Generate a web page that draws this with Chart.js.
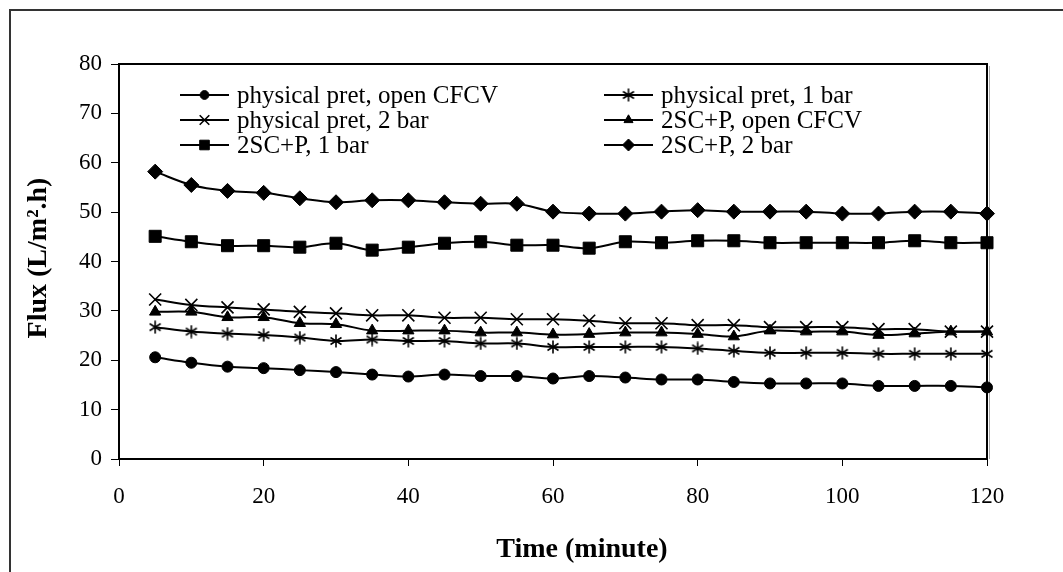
<!DOCTYPE html>
<html>
<head>
<meta charset="utf-8">
<script src="https://cdn.jsdelivr.net/npm/chart.js@4.4.1/dist/chart.umd.min.js"></script>
<style>
  html, body { margin: 0; padding: 0; background: #fff; }
  #wrap { width: 1063px; height: 572px; }
</style>
</head>
<body>
<div id="wrap"><canvas id="flux" width="1063" height="572"></canvas></div>
<script>
// ---- data --------------------------------------------------------------
const timeMin = [5, 10, 15, 20, 25, 30, 35, 40, 45, 50, 55, 60,
                 65, 70, 75, 80, 85, 90, 95, 100, 105, 110, 115, 120];

const physOpen = [20.6, 19.5, 18.7, 18.4, 18.0, 17.6, 17.1, 16.7, 17.1, 16.8, 16.8, 16.3,
                  16.8, 16.5, 16.1, 16.1, 15.6, 15.3, 15.3, 15.3, 14.8, 14.8, 14.8, 14.5];
const phys1bar = [26.7, 25.8, 25.4, 25.1, 24.6, 23.9, 24.2, 23.9, 23.9, 23.4, 23.4, 22.7,
                  22.7, 22.7, 22.7, 22.4, 21.9, 21.5, 21.5, 21.5, 21.3, 21.3, 21.3, 21.3];
const phys2bar = [32.3, 31.2, 30.7, 30.3, 29.8, 29.5, 29.1, 29.1, 28.6, 28.6, 28.3, 28.3,
                  28.0, 27.5, 27.5, 27.1, 27.1, 26.7, 26.7, 26.7, 26.3, 26.3, 25.8, 25.8];
const scpOpen  = [29.8, 29.8, 28.7, 28.7, 27.5, 27.3, 26.0, 26.0, 26.0, 25.6, 25.6, 25.2,
                  25.3, 25.6, 25.6, 25.3, 24.8, 26.0, 25.8, 25.8, 25.1, 25.4, 25.8, 25.8];
const scp1bar  = [45.1, 44.0, 43.2, 43.2, 42.9, 43.7, 42.3, 42.9, 43.7, 44.0, 43.3, 43.3,
                  42.7, 44.0, 43.8, 44.2, 44.2, 43.8, 43.8, 43.8, 43.8, 44.2, 43.8, 43.8];
const scp2bar  = [58.2, 55.5, 54.3, 53.9, 52.8, 52.0, 52.4, 52.4, 52.0, 51.7, 51.7, 50.1,
                  49.7, 49.7, 50.1, 50.4, 50.1, 50.1, 50.1, 49.7, 49.7, 50.1, 50.1, 49.7];

const seriesNames = ["physical pret, open CFCV", "physical pret, 1 bar",
                     "physical pret, 2 bar", "2SC+P, open CFCV",
                     "2SC+P, 1 bar", "2SC+P, 2 bar"];
const xTicks = [0, 20, 40, 60, 80, 100, 120];
const yTicks = [0, 10, 20, 30, 40, 50, 60, 70, 80];

const SERIF = "'Liberation Serif', 'Times New Roman', Times, serif";

// ---- asterisk marker (vertical bar + X, like the Excel one) -------------
function asteriskMarker() {
  const c = document.createElement("canvas");
  c.width = 14; c.height = 14;
  const g = c.getContext("2d");
  g.strokeStyle = "#000";
  g.lineWidth = 1.6;
  g.beginPath();
  g.moveTo(7, 0.5); g.lineTo(7, 13.5);
  g.moveTo(1.5, 3.5); g.lineTo(12.5, 10.5);
  g.moveTo(12.5, 3.5); g.lineTo(1.5, 10.5);
  g.stroke();
  return c;
}

const markers = [
  { pointStyle: "circle",   radius: 5.5, borderWidth: 1 },
  { pointStyle: asteriskMarker(), radius: 7, borderWidth: 1 },
  { pointStyle: "crossRot", radius: 8.5, borderWidth: 1.6 },
  { pointStyle: "triangle", radius: 6.5, borderWidth: 1 },
  { pointStyle: "rect",     radius: 8.5, borderWidth: 1 },
  { pointStyle: "rectRot",  radius: 7.5, borderWidth: 1 },
];
const seriesValues = [physOpen, phys1bar, phys2bar, scpOpen, scp1bar, scp2bar];

const datasets = seriesValues.map((vals, i) => ({
  label: seriesNames[i],
  data: timeMin.map((t, k) => ({ x: t, y: vals[k] })),
  borderColor: "#000",
  backgroundColor: "#000",
  borderWidth: 2,
  tension: 0.35,
  pointStyle: markers[i].pointStyle,
  pointRadius: markers[i].radius,
  pointBorderWidth: markers[i].borderWidth,
  pointBackgroundColor: "#000",
  pointBorderColor: "#000",
  clip: false,
}));

// ---- plugins: page border, plot frame, legend, axis titles --------------
const framePlugin = {
  id: "frame",
  beforeDraw(chart) {
    const { ctx } = chart;
    ctx.save();
    ctx.fillStyle = "#fff";
    ctx.fillRect(0, 0, chart.width, chart.height);
    ctx.strokeStyle = "#333";
    ctx.lineWidth = 2;
    ctx.strokeRect(10, 10, chart.width + 40, chart.height + 40);
    ctx.restore();
  },
  beforeDatasetsDraw(chart) {
    const { ctx, chartArea: a } = chart;
    ctx.save();
    ctx.strokeStyle = "#aaa";
    ctx.lineWidth = 1;
    ctx.beginPath();
    ctx.moveTo(a.right + 2.5, a.top + 2);
    ctx.lineTo(a.right + 2.5, a.bottom);
    ctx.stroke();
    ctx.strokeStyle = "#000";
    ctx.lineWidth = 2;
    ctx.beginPath();
    ctx.moveTo(a.left, a.top);
    ctx.lineTo(a.right, a.top);
    ctx.lineTo(a.right, a.bottom);
    ctx.stroke();
    ctx.restore();
  },
};

const legendPlugin = {
  id: "sideLegend",
  afterDatasetsDraw(chart) {
    const { ctx } = chart;
    const colX = [180, 604];
    const rowY = [95, 120, 145];
    ctx.save();
    ctx.font = "25px " + SERIF;
    ctx.textBaseline = "middle";
    ctx.fillStyle = "#000";
    ctx.strokeStyle = "#000";
    chart.data.datasets.forEach((ds, i) => {
      const x0 = colX[i % 2];
      const y = rowY[Math.floor(i / 2)];
      ctx.lineWidth = 2;
      ctx.beginPath();
      ctx.moveTo(x0, y);
      ctx.lineTo(x0 + 49, y);
      ctx.stroke();
      ctx.lineWidth = ds.pointBorderWidth;
      Chart.helpers.drawPoint(ctx, {
        pointStyle: ds.pointStyle,
        radius: ds.pointRadius * 0.8,
        borderWidth: ds.pointBorderWidth,
        rotation: 0,
      }, x0 + 24.5, y);
      ctx.fillText(ds.label, x0 + 57, y + 1);
    });
    ctx.restore();
  },
};

const titlePlugin = {
  id: "axisTitles",
  afterDraw(chart) {
    const { ctx } = chart;
    ctx.save();
    ctx.fillStyle = "#000";
    ctx.font = "bold 28px " + SERIF;
    ctx.textAlign = "center";
    ctx.textBaseline = "middle";
    ctx.fillText("Time (minute)", 582, 550);
    ctx.translate(39, 258);
    ctx.rotate(-Math.PI / 2);
    ctx.fillText("Flux (L/m\u00B2.h)", 0, 0);
    ctx.restore();
  },
};

Chart.defaults.font.family = SERIF;
Chart.defaults.color = "#000";

new Chart(document.getElementById("flux"), {
  type: "line",
  data: { datasets },
  options: {
    responsive: false,
    animation: false,
    layout: { padding: { top: 64, right: 76, left: 0, bottom: 0 } },
    plugins: { legend: { display: false }, tooltip: { enabled: false } },
    scales: {
      x: {
        type: "linear",
        min: 0, max: 120,
        afterBuildTicks: (s) => { s.ticks = xTicks.map((v) => ({ value: v })); },
        afterFit: (s) => { s.height = 113; },
        grid: { drawOnChartArea: false, color: "#000", lineWidth: 1, tickLength: 7 },
        border: { color: "#000", width: 2 },
        ticks: { font: { size: 23 }, padding: 17, maxRotation: 0 },
      },
      y: {
        min: 0, max: 80,
        afterBuildTicks: (s) => { s.ticks = yTicks.map((v) => ({ value: v })); },
        afterFit: (s) => { s.width = 119; },
        grid: { drawOnChartArea: false, color: "#000", lineWidth: 1, tickLength: 8 },
        border: { color: "#000", width: 2 },
        ticks: { font: { size: 23 }, padding: 9 },
      },
    },
  },
  plugins: [framePlugin, legendPlugin, titlePlugin],
});
</script>
</body>
</html>
